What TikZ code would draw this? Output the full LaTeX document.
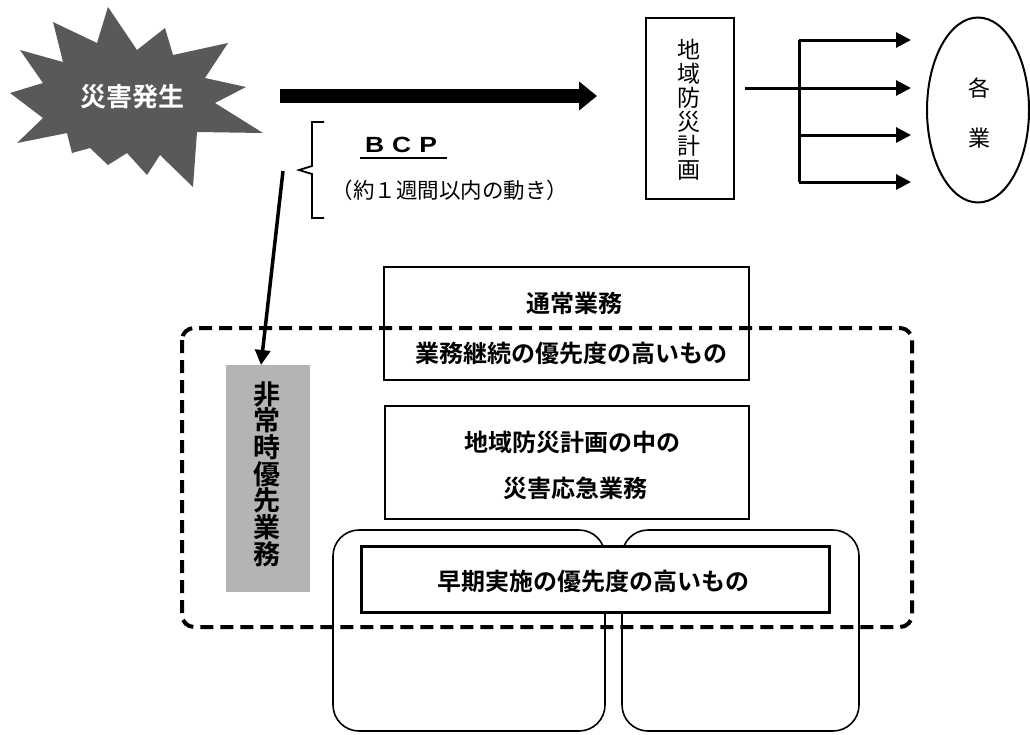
\documentclass[tikz,border=0pt]{standalone}
\usepackage{fontspec}
\newfontfamily\jp[BoldFont={Noto Sans CJK JP Bold}]{Noto Sans CJK JP}
\newfontfamily\lat{Liberation Sans}
\usetikzlibrary{arrows.meta,shapes.geometric}
\definecolor{burstgray}{RGB}{89,89,89}
\definecolor{tagggray}{RGB}{180,180,180}
\tikzset{
  box/.style={draw, line width=2.4pt, anchor=north west, inner sep=0pt},
  thickbox/.style={draw, line width=3.4pt, fill=white, anchor=north west, inner sep=0pt},
  thinbox/.style={draw, line width=1.8pt, anchor=north west, inner sep=0pt},
  pillar/.style={draw, line width=1.6pt, rounded corners=26pt},
  lbl/.style={font=\jp\bfseries\fontsize{24}{28}\selectfont, inner sep=0pt},
  reglbl/.style={font=\jp\fontsize{21.5}{24}\selectfont, inner sep=0pt},
  branch/.style={line width=3pt, -{Triangle[length=15pt,width=15pt]}},
}
\begin{document}
\begin{tikzpicture}[x=1pt,y=-1pt]
\useasboundingbox (0,0) rectangle (1030,734);
% starburst
\fill[burstgray] (108,7) -- (137,50) -- (165,28) -- (173,55) -- (228,43) -- (205,78)
  -- (246,87) -- (215,103) -- (263,133) -- (197,132) -- (193,187) -- (160,155)
  -- (147,175) -- (127,153) -- (108,165) -- (90,148) -- (72,153) -- (67,133)
  -- (17,143) -- (43,118) -- (10,93) -- (43,83) -- (20,50) -- (63,62)
  -- (53,22) -- (97,43) -- cycle;
\node[inner sep=0pt, text=white, font=\jp\bfseries\fontsize{26}{28}\selectfont] (burst) at (132,97) {災害発生};
% big arrow
\coordinate (bigA) at (280,96);
\coordinate (bigB) at (597,96);
\draw[line width=14pt, -{Triangle[length=18pt,width=28pt]}] (bigA) -- (bigB);
% BCP bracket and text
\draw[line width=1.8pt, line join=miter] (324,122) -- (312,122) -- (312,166) -- (299,170) -- (312,174) -- (312,218) -- (324,218);
\node[font=\lat\bfseries\fontsize{22}{24}\selectfont, inner sep=0pt] (bcp) at (401,145) {\scalebox{1.2}[1]{B}\hspace{8pt}\scalebox{1.2}[1]{C}\hspace{8pt}\scalebox{1.2}[1]{P}};
\draw[line width=2pt] (360,158) -- (447,158);
\node[reglbl] (week) at (450,190) {（約１週間以内の動き）};
% top right
\node[thinbox, minimum width=88pt, minimum height=181pt] (chiiki) at (645,17) {};
\node[font=\jp\fontsize{23}{24}\selectfont, align=center, inner sep=0pt] (chiikit) at (689,110) {地\\域\\防\\災\\計\\画};
\coordinate (p0) at (745,88);
\coordinate (v1) at (799,40);
\coordinate (v4) at (799,182);
\coordinate (v3) at (799,135);
\coordinate (t1) at (911,40);
\coordinate (t2) at (911,88);
\coordinate (t3) at (911,135);
\coordinate (t4) at (911,182);
\draw[line width=3pt] (v1) -- (v4);
\draw[branch] (p0) -- (t2);
\draw[branch] (v1) -- (t1);
\draw[branch] (v3) -- (t3);
\draw[branch] (v4) -- (t4);
\node[draw, ellipse, line width=2pt, minimum width=102pt, minimum height=185pt] (kaku) at (978,110) {};
\node[font=\jp\fontsize{22}{50}\selectfont, align=center, inner sep=0pt] (kakut) at (979,113) {各\\業};
% pillars
\draw[pillar] (333,731) rectangle (605,530);
\draw[pillar] (622,731) rectangle (859,530);
% boxes
\node[box, minimum width=365pt, minimum height=113pt] (tsujo) at (383,266) {};
\node[lbl] (tsujot) at (574,303) {通常業務};
\node[lbl] (keizokut) at (571,353) {業務継続の優先度の高いもの};
\node[box, minimum width=364pt, minimum height=113pt] (saigai) at (384,405) {};
\node[lbl] (saigait1) at (572,442) {地域防災計画の中の};
\node[lbl] (saigait2) at (575,488) {災害応急業務};
\node[thickbox, minimum width=468pt, minimum height=66pt] (soki) at (360,545) {};
\node[lbl] (sokit) at (593,581) {早期実施の優先度の高いもの};
% gray tag
\node[fill=tagggray, minimum width=84pt, minimum height=227pt, anchor=north west, inner sep=0pt] (hijo) at (226,365) {};
\node[font=\jp\bfseries\fontsize{27}{26.7}\selectfont, align=center, inner sep=0pt] (hijot) at (267,474) {非\\常\\時\\優\\先\\業\\務};
% dashed region
\draw[line width=4pt, dash pattern=on 13pt off 7pt, rounded corners=12pt] (182,328) rectangle (912,627);
% BCP arrow
\coordinate (bcpA) at (283,171);
\draw[line width=3.5pt, -{Triangle[length=15pt,width=15pt]}] (bcpA) -- (hijo.north west -| 261,0);
\end{tikzpicture}
\end{document}
